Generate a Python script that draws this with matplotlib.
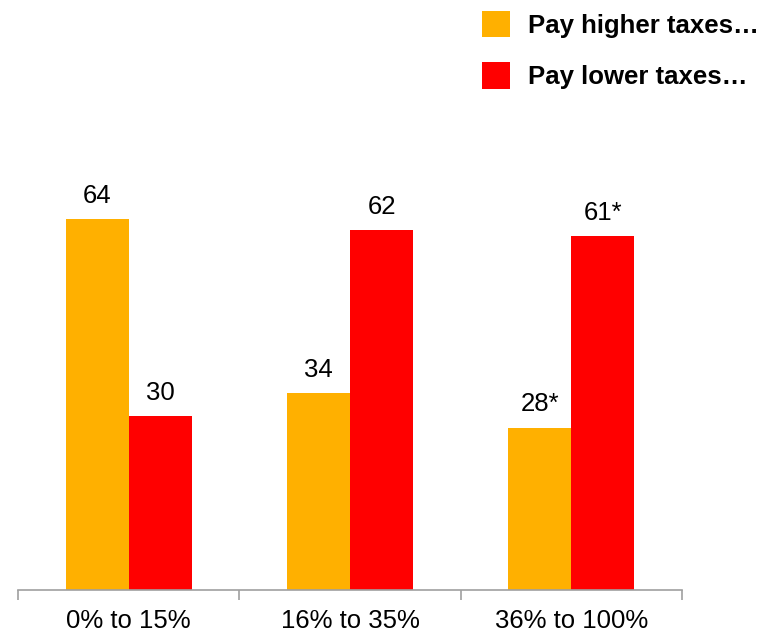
import matplotlib
matplotlib.use('Agg')
import matplotlib.pyplot as plt
import numpy as np

plt.rcParams['font.family'] = ['Liberation Sans', 'DejaVu Sans']

groups = ['0% to 15%', '16% to 35%', '36% to 100%']
higher = [64, 34, 28]
lower = [30, 62, 61]
higher_labels = ['64', '34', '28*']
lower_labels = ['30', '62', '61*']
series_names = ['Pay higher taxes\u2026', 'Pay lower taxes\u2026']

orange = '#FFB000'
red = '#FF0000'

fig = plt.figure(figsize=(7.8, 6.34), dpi=100)
ax = fig.add_axes([18/780, 44/634, 664/780, 470/634])

x = np.arange(len(groups))
w = 0.285
b1 = ax.bar(x - w/2, higher, w, color=orange, label=series_names[0])
b2 = ax.bar(x + w/2, lower, w, color=red, label=series_names[1])

for bars, labs in [(b1, higher_labels), (b2, lower_labels)]:
    for bar, lab in zip(bars, labs):
        ax.annotate(lab, (bar.get_x() + bar.get_width()/2, bar.get_height()),
                    xytext=(0, 8), textcoords='offset points',
                    ha='center', va='bottom', fontsize=18.5)

ax.set_xlim(-0.5, 2.5)
ax.set_ylim(0, 81)
for s in ['top', 'right', 'left']:
    ax.spines[s].set_visible(False)
ax.spines['bottom'].set_color('#A0A0A0')
ax.spines['bottom'].set_linewidth(1.2)
ax.set_yticks([])
ax.set_xticks(x)
ax.set_xticklabels(groups, fontsize=18.5)
ax.tick_params(axis='x', which='major', length=0, pad=14)
ax.set_xticks([-0.5, 0.5, 1.5, 2.5], minor=True)
ax.tick_params(axis='x', which='minor', length=7, width=1.2, color='#A0A0A0', direction='out')

fig.legend(handles=[b1, b2], loc='upper left', bbox_to_anchor=(482/780, 1 - 11/634),
           frameon=False, prop={'weight': 'bold', 'size': 18.5},
           handlelength=1.08, handleheight=1.2, handletextpad=0.7,
           labelspacing=0.95, borderpad=0, borderaxespad=0)

fig.savefig('out.png', dpi=100)
